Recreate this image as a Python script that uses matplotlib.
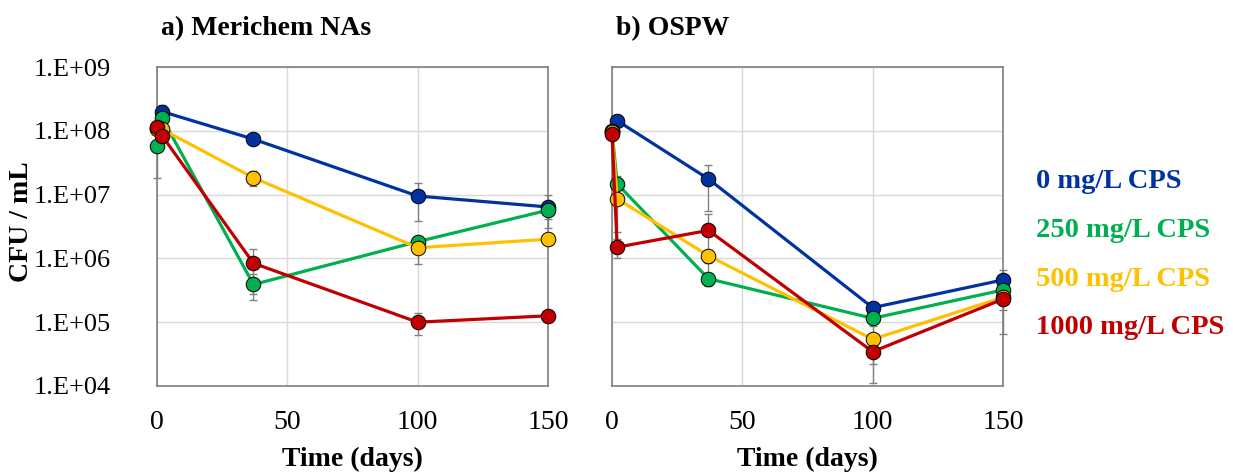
import numpy as np
import matplotlib
matplotlib.use('Agg')
import matplotlib.pyplot as plt
from matplotlib.ticker import FixedLocator, NullLocator

plt.rcParams['font.family'] = 'Liberation Serif'

days = [0, 2, 37, 100, 150]
doses = ['0 mg/L CPS', '250 mg/L CPS', '500 mg/L CPS', '1000 mg/L CPS']
colors = ['#0033A0', '#00B050', '#FFC000', '#C00000']

# CFU/mL, a) Merichem NAs
mer_0 = [1.1e8, 2.0e8, 7.4e7, 9.5e6, 6.4e6]
mer_250 = [5.8e7, 1.57e8, 3.9e5, 1.83e6, 5.7e6]
mer_500 = [1.05e8, 1.05e8, 1.84e7, 1.47e6, 2.0e6]
mer_1000 = [1.13e8, 8.3e7, 8.4e5, 1.0e5, 1.26e5]
mer_0_sd = [2e7, 5e7, 8e6, 5.6e6, 3.4e6]
mer_250_sd = [4e7, 2e7, 1.7e5, 4e5, 1.5e6]
mer_500_sd = [1e7, 1e7, 5e6, 6.5e5, 3e5]
mer_1000_sd = [1e7, 1e7, 5.6e5, 3.8e4, 2.5e4]

# CFU/mL, b) OSPW
ospw_0 = [1.0e8, 1.44e8, 1.76e7, 1.69e5, 4.6e5]
ospw_250 = [1.0e8, 1.47e7, 4.8e5, 1.15e5, 3.2e5]
ospw_500 = [9.5e7, 8.6e6, 1.1e6, 5.4e4, 2.45e5]
ospw_1000 = [8.9e7, 1.5e6, 2.75e6, 3.45e4, 2.3e5]
ospw_0_sd = [1e7, 2e7, 1.2e7, 2e4, 2e5]
ospw_250_sd = [1e7, 5e6, 1.1e5, 1.5e4, 8e4]
ospw_500_sd = [1e7, 6e6, 2.5e5, 3.2e4, 1.8e5]
ospw_1000_sd = [1e7, 5e5, 2.2e6, 2.35e4, 7.5e4]

panels = [
    ('a) Merichem NAs', [mer_0, mer_250, mer_500, mer_1000],
     [mer_0_sd, mer_250_sd, mer_500_sd, mer_1000_sd]),
    ('b) OSPW', [ospw_0, ospw_250, ospw_500, ospw_1000],
     [ospw_0_sd, ospw_250_sd, ospw_500_sd, ospw_1000_sd]),
]

fig = plt.figure(figsize=(12.33, 4.74), dpi=100)
lefts = [157/1233, 612/1233]
width = 391/1233
bottom = 1 - 386/474
height = (386 - 67)/474

for i, (title, series, errs) in enumerate(panels):
    ax = fig.add_axes([lefts[i], bottom, width, height])
    ax.set_yscale('log')
    ax.set_xlim(0, 150)
    ax.set_ylim(1e4, 1e9)

    for vals, sd, c in zip(series, errs, colors):
        ax.errorbar(days, vals, yerr=sd, fmt='none', ecolor='#808080',
                    elinewidth=1, capsize=3, capthick=1, zorder=2,
                    clip_on=False)
    for vals, c in zip(series, colors):
        ax.plot(days, vals, '-o', color=c, lw=2.3, ms=10.5,
                mec='black', mew=0.7, zorder=3, clip_on=False)

    ax.xaxis.set_major_locator(FixedLocator([0, 50, 100, 150]))
    ax.yaxis.set_major_locator(FixedLocator(10.0**np.arange(4, 10)))
    ax.yaxis.set_minor_locator(NullLocator())
    ax.grid(True, color='#D9D9D9', lw=1)
    ax.set_axisbelow(True)
    for s in ax.spines.values():
        s.set_color('#808080')
        s.set_linewidth(1.2)
    ax.tick_params(axis='y', length=0, labelsize=19, pad=33)
    ax.tick_params(axis='x', length=0, labelsize=20, pad=17)
    if i == 0:
        ax.set_yticklabels(['1.E+%02d' % p for p in range(4, 10)])
    else:
        ax.set_yticklabels([])
    ax.set_xlabel('Time (days)', fontsize=20, fontweight='bold',
                  labelpad=9)
    ax.text(0.01, 1.12, title, transform=ax.transAxes,
            fontsize=20, fontweight='bold', va='center', ha='left')

fig.text(22/1233, 1 - 222/474, 'CFU / mL', rotation=90, fontsize=20,
         fontweight='bold', ha='center', va='center')

# colored legend text on the right
for j, (lab, c) in enumerate(zip(doses, colors)):
    fig.text(1036/1233, 1 - (181 + 49*j)/474, lab, color=c, fontsize=20.5,
             fontweight='bold', va='center', ha='left')

plt.savefig('out.png', dpi=100)
